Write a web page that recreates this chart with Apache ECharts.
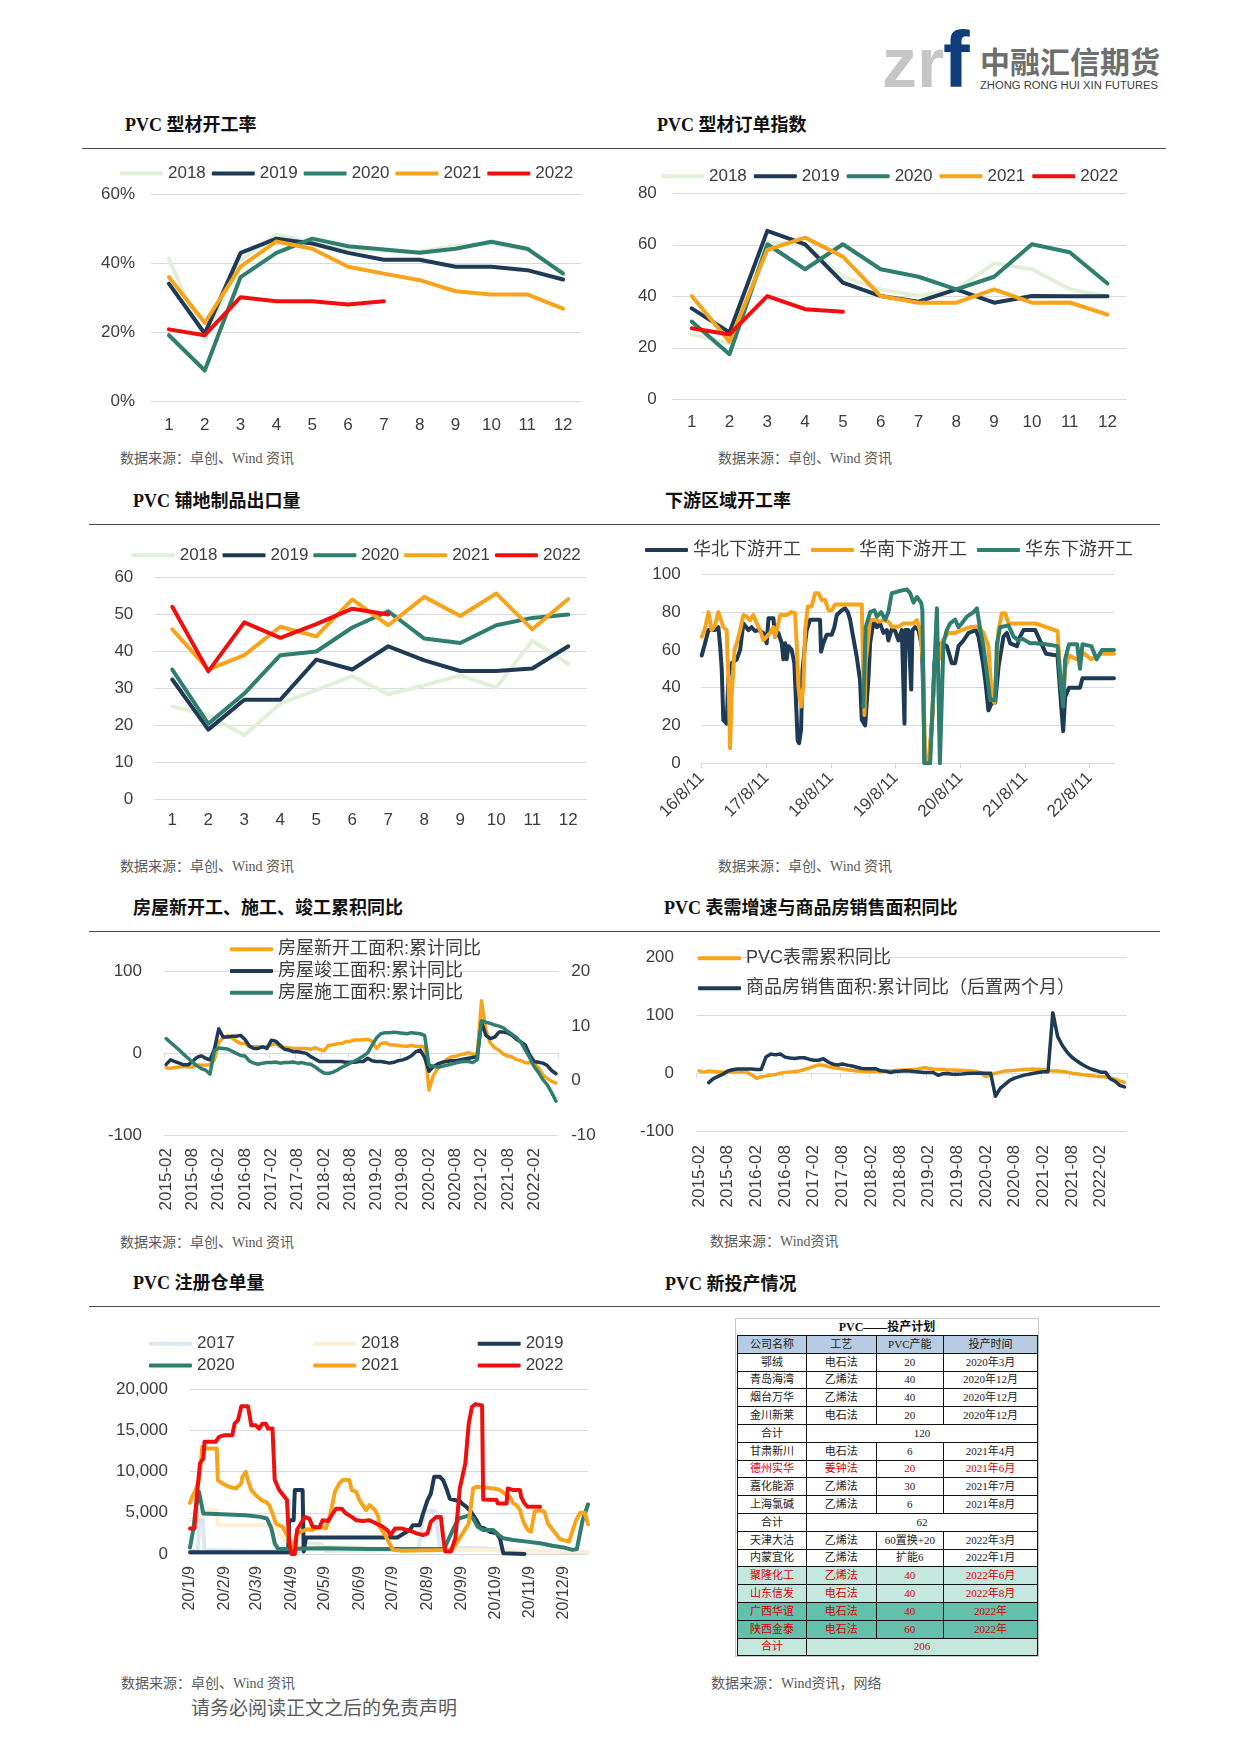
<!DOCTYPE html>
<html lang="zh-CN">
<head>
<meta charset="utf-8">
<title>PVC</title>
<script src="https://cdn.jsdelivr.net/npm/echarts/dist/echarts.min.js"></script>
<style>
html,body{margin:0;padding:0;background:#fff;}
#page{position:relative;width:1241px;height:1755px;overflow:hidden;background:#fff;}
.t{position:absolute;white-space:nowrap;line-height:1;transform:translateY(-50%);}
.ttl{font-family:'Liberation Serif','Noto Sans CJK SC',serif;font-weight:700;font-size:18px;color:#111;}
.src{font-family:'Liberation Serif','Noto Sans CJK SC',serif;font-size:14px;color:#595959;}
.foot{font-family:'Liberation Serif','Noto Sans CJK SC',serif;font-size:19px;color:#5a5a5a;}
.rule{position:absolute;height:0;border-top:1.5px solid #4a4a4a;}
.chart{position:absolute;}
#plan{position:absolute;left:735px;top:1318px;width:302px;border:1px solid #c8c8c8;background:#fff;font-family:'Liberation Serif','Noto Sans CJK SC',serif;}
#plan .cap{height:16px;line-height:16px;text-align:center;font-weight:700;font-size:12px;color:#111;}
#plan table{border-collapse:collapse;table-layout:fixed;width:300px;margin-left:1px;}
#plan td{border:1px solid #111;height:16.8px;padding:0;text-align:center;font-size:11px;line-height:1;color:#1a1a1a;overflow:hidden;white-space:nowrap;}
</style>
</head>
<body>
<div id="page">
<svg style="position:absolute;left:0;top:0" width="1241" height="100">
  <text x="882" y="87" font-family="Liberation Sans" font-weight="bold" font-size="70" fill="#c6c6c6">zr</text>
  <text x="943" y="87" font-family="Liberation Sans" font-weight="bold" font-size="80" fill="#0f3c7c">f</text>
  <text x="980" y="73" font-family="Noto Sans CJK SC" font-weight="bold" font-size="30" fill="#6e6e6e" textLength="180" lengthAdjust="spacingAndGlyphs">中融汇信期货</text>
  <text x="980" y="88.5" font-family="Liberation Sans" font-size="10" fill="#3c3c3c" textLength="178" lengthAdjust="spacingAndGlyphs">ZHONG RONG HUI XIN FUTURES</text>
</svg>
</div>
<script>
// ---------------- data ----------------
const months = ['1','2','3','4','5','6','7','8','9','10','11','12'];
const yearNames = ['2018','2019','2020','2021','2022'];

// PVC 型材开工率 (%)
const rate2018 = [41.3,17.8,41,48.3,46,44,43.5,43.3,45,45.7,44,37.5];
const rate2019 = [34.1,19.7,43,47.1,45.7,43,41,41,39,39,38,35.3];
const rate2020 = [19.2,9,36,43,47.1,44.9,44,43,44.2,46.2,44.2,37];
const rate2021 = [36,22.8,39,46.3,44.2,39,37,35.1,31.9,31,31,26.9];
const rate2022 = [20.9,19.2,30.2,29,29,28.1,29];

// PVC 型材订单指数
const order2018 = [25.2,21.7,61.2,60,47.6,42.7,40.1,42.7,52.8,50.5,42.8,40];
const order2019 = [35.3,26,65.4,60.2,45.3,40.1,37.9,42.7,37.5,40.1,40,40];
const order2020 = [30.2,17.5,60.2,50.5,60.2,50.5,47.6,42.7,47.6,60.2,57.1,45];
const order2021 = [40.1,22.4,58,62.8,55.4,40.1,37.5,37.5,42.7,37.5,37.6,32.9];
const order2022 = [27.6,25.2,40.1,35,34];

// PVC 铺地制品出口量
const floor2018 = [25.1,22.7,17.3,25.9,29.5,33.3,28.4,30.8,33.5,30.2,42.9,36.6];
const floor2019 = [32.4,18.8,26.9,26.9,37.8,35.1,41.4,37.6,34.7,34.7,35.4,41.4];
const floor2020 = [35.1,20.4,28.6,39,40,46.5,50.9,43.5,42.3,47.1,49.1,50];
const floor2021 = [46,35.1,39,46.7,44.1,54.1,47.1,54.8,49.6,55.7,46,54.2];
const floor2022 = [52.1,34.6,47.9,43.7,47.4,51.6,50];

// 下游区域开工率: [days since 2016-08-11, value]
const regionNames = ['华北下游开工','华南下游开工','华东下游开工'];
const northRate = [[0,57],[19,63.5],[38,70.5],[75,70.5],[94,72],[104,62],[113,50],[122,23],[141,21],[151,46],[169,53],[198,55],[217,60],[235,74],[264,70.5],[282,72],[301,70],[320,70.5],[348,69],[367,63.5],[377,76.7],[405,76.7],[414,67],[433,69],[452,63.5],[461,55],[471,63.5],[480,55],[490,62],[508,60],[523,53],[542,12],[550,10.6],[561,17.6],[569,49],[584,63.5],[593,70.5],[612,76],[668,76],[674,59],[687,63.5],[706,68],[734,68],[749,72],[763,78.5],[791,81],[810,82],[825,80],[838,76],[851,69],[876,56],[894,44],[904,23],[923,20],[932,21],[942,46],[951,63.5],[970,75],[989,72],[1007,74],[1026,69],[1045,70.5],[1054,65],[1073,71],[1092,70],[1111,65],[1130,70.5],[1141,70.5],[1145,21],[1150,70.5],[1167,70.5],[1183,39],[1190,70.5],[1205,72],[1224,70.5],[1243,62],[1252,35],[1258,0],[1285,0],[1303,26.5],[1314,53],[1328,62],[1356,63.5],[1384,62],[1412,53],[1431,53],[1450,62],[1478,65],[1507,69],[1548,70.5],[1563,67],[1588,53],[1601,44],[1619,28],[1638,32],[1657,32],[1676,51],[1704,67],[1723,69],[1742,63.5],[1780,62],[1798,67],[1817,70.5],[1883,70.5],[1944,58],[2009,57],[2030,30],[2041,17],[2052,35],[2074,40],[2136,40],[2150,45],[2328,45]];
const southRate = [[0,67],[19,71.4],[38,80],[56,70.5],[75,73],[94,80],[122,72],[141,70.5],[154,35],[160,8],[169,35],[185,60],[198,63.5],[217,70.5],[235,78.5],[254,77.6],[273,75.8],[292,78.5],[311,74],[330,70.5],[348,65],[367,67],[386,69],[405,72],[414,67],[424,70.5],[443,78.5],[480,78.5],[508,80],[527,79.4],[537,62],[546,40.6],[561,30],[574,40.6],[584,70.5],[599,83],[621,83],[640,90],[659,90],[678,86.4],[697,86.4],[716,81],[734,81],[753,84],[904,84],[911,53],[919,25.6],[926,53],[951,75.8],[979,75.8],[1007,75],[1026,75.8],[1054,75],[1073,72.3],[1111,72.3],[1139,74],[1196,74],[1215,75.8],[1233,70.5],[1250,53],[1262,0],[1280,0],[1300,20],[1318,55],[1340,55],[1360,65],[1393,69],[1431,69],[1469,70.5],[1525,72.3],[1563,72.3],[1591,69],[1619,62],[1638,35],[1653,32],[1676,70.5],[1695,79.4],[1714,79.4],[1732,74],[1883,74],[2009,70],[2030,40],[2041,35],[2052,50],[2074,57],[2120,55],[2160,58],[2200,55],[2260,58],[2328,58]];
const eastRate = [[913,30],[926,72],[951,80],[975,81],[989,77.6],[1013,80],[1036,76],[1054,80],[1073,90],[1111,91],[1158,92],[1177,90],[1196,85],[1215,88],[1239,85],[1246,81],[1258,0],[1290,0],[1318,60],[1328,82],[1345,0],[1356,0],[1365,63.5],[1384,70.5],[1403,74],[1431,76],[1450,72],[1469,74],[1497,77.6],[1535,80],[1554,82],[1573,70.5],[1591,62],[1610,47.6],[1629,33.5],[1657,33.5],[1667,63.5],[1685,72],[1732,73],[1761,67],[1789,65],[1808,66],[1855,63.5],[1883,63.5],[1944,63],[2009,62],[2030,40],[2041,30],[2052,55],[2074,63],[2120,63],[2136,50],[2150,63],[2200,62],[2230,55],[2260,60],[2328,60]];

// 房屋新开工、施工、竣工累积同比 (2015-02 .. 2022-07)
const houseNames = ['房屋新开工面积:累计同比','房屋竣工面积:累计同比','房屋施工面积:累计同比'];
const newStartYoY = [-17.7,-18.4,-17.4,-16.8,-15.8,-16.8,-16.8,-13.9,-14.5,-14.4,-14.0,
  -8,13.7,19.2,21.4,18.9,14.9,12.3,12.2,8,8,8,8.1,
  8,10.4,11.6,8,7,7,6,6,6,6,5,7,
  5,2.9,9.7,10.4,11.8,11.8,14.4,14.6,16.4,16.3,16.8,17.2,
  15,6.0,11.9,13.1,10.5,10.1,9.5,8.9,8.6,10.0,8.6,8.5,
  8,-44.9,-27.2,-18.4,-12.8,-7.6,-4.5,-3.6,-1.9,-0.8,0.8,-1.2,
  -1,64.3,28.2,12.8,6.9,3.8,-0.9,-3.2,-4.5,-7.7,-9.1,-11.4,
  -11.5,-12.2,-17.5,-26.3,-30.6,-34.4,-36.1];
const completedYoY = [-13.5,-8,-10,-12,-14,-14,-10,-5,-3,-6,-8,
  5,30,20,20,21,21,22,17,9,6,6,8,
  6,16,15,10,5,4,2,2,1,0,-4,-7,
  -10,-10,-10,-10,-10,-10,-11,-11,-11,-10,-10,-6,
  -9,-10,-10,-11,-12,-11,-9,-8,-6,-3,2,4,
  -5,-22,-16,-13,-11,-10,-9,-9,-8,-7,-6,-5,
  -4,38,22,18,20,26,26,25,22,17,14,10,
  -2,-10,-11,-12,-15,-21,-25];
const underConstYoY = [7.7,7.0,6.3,5.6,4.8,4.1,3.4,2.7,2.2,1.9,1.2,
  5.5,6.0,5.9,5.8,5.4,5.0,4.6,4.5,3.6,3.2,3.0,3.2,
  3.3,3.3,3.4,3.2,3.3,3.3,3.4,3.2,3.3,3.1,3.0,2.5,
  1.9,1.4,1.3,1.5,1.9,2.4,2.8,3.2,3.6,4.0,4.5,5.1,
  6.5,7.8,8.6,8.8,8.8,8.9,8.8,8.7,8.6,8.8,8.7,8.6,
  8.3,2.9,2.6,2.5,2.6,2.8,3.0,3.2,3.4,3.5,3.5,3.3,
  3.8,11.0,10.7,10.5,10.2,10.0,9.7,9.0,8.5,7.9,7.0,5.6,
  4.2,2.6,1.5,0.2,-0.8,-2.2,-3.8];

// PVC 表需增速与商品房销售面积同比 (2015-02 .. 2022-07)
const demandNames = ['PVC表需累积同比','商品房销售面积:累计同比（后置两个月）'];
const pvcDemandYoY = [4,2,4,3,2,2,2,2,2,2,1.5,-3,-8.7,-6,-5,-3,-2,0,1.5,2,3,4,6.5,9,12,14.5,14,11.6,10,8.7,7.5,6,5,4,3.5,3,3,3,3,3.5,4,4.6,5,5.5,6,6.5,7.5,9.8,8.5,7.5,7,6.5,5.8,5.5,5,5,4.5,4,3,0,-5.8,-3,0,2,4,4.5,5,5.8,6.5,7,7.5,7,6,5,4,3.8,3,2,0,-1,-2,-3,-4,-5,-5.8,-6.5,-8,-10,-13.5,-16];
const salesAreaYoY = [null,null,-16.3,-9.2,-5.4,-1.7,3.9,6.0,7.2,7.5,7.2,7.4,6.5,6.5,28.2,33.1,32.1,33.2,27.9,26.4,25.5,26.9,26.8,24.3,22.5,22.5,25.1,19.5,15.7,14.3,16.1,14.0,12.7,10.3,8.2,7.9,7.7,7.7,4.1,3.6,1.3,2.9,3.3,4.2,4.0,2.9,2.2,1.4,1.3,1.3,-3.6,-0.9,-0.3,-1.6,-1.8,-1.3,-0.6,-0.1,0.1,0.2,-0.1,-0.1,-39.9,-26.3,-19.3,-12.3,-8.4,-5.8,-3.3,-1.8,0.0,1.3,2.6,2.6,104.9,63.8,48.1,36.3,27.7,21.5,15.9,11.3,7.3,4.8,1.9,1.9,-9.6,-13.8,-20.9,-23.6];

// PVC 注册仓单量: [days since 01-09, value]
const warrantNames = ['2017','2018','2019','2020','2021','2022'];
const warrant2017 = [[0,400],[7,400],[9,5500],[11,5500],[13,500],[60,300],[100,300],[105,1200],[118,1200],[122,400],[205,500],[210,5200],[220,5200],[224,900],[260,700],[300,300],[357,200]];
const warrant2018 = [[0,4200],[10,4500],[12,5300],[24,5300],[25,3500],[77,3500],[80,2600],[88,1000],[150,800],[200,500],[260,500],[300,300],[357,300]];
const warrant2019 = [[0,200],[88,200],[89,4100],[93,4100],[94,7750],[101,7750],[102,300],[104,2000],[186,2000],[197,2900],[200,3500],[206,3500],[209,4900],[213,6500],[216,7300],[219,9360],[224,9360],[227,8960],[230,7950],[233,6700],[242,6400],[244,6100],[248,5700],[252,5100],[257,4100],[260,3300],[264,3100],[269,2700],[275,2500],[278,1900],[281,100],[300,0]];
const warrant2020 = [[0,800],[3,3000],[5,5300],[8,7550],[9,7550],[12,4900],[50,4700],[63,4500],[69,4300],[73,3100],[76,1300],[79,600],[120,700],[160,600],[200,600],[228,600],[236,3000],[241,4300],[246,4500],[251,4700],[254,4300],[258,3300],[263,2900],[272,2900],[277,2300],[281,1900],[290,1700],[302,1500],[314,1300],[325,1000],[335,800],[343,500],[347,600],[352,4000],[357,6000]];
const warrant2021 = [[0,6200],[2,6900],[5,7750],[8,8960],[10,11400],[11,13000],[13,12800],[24,12800],[25,8960],[29,8550],[35,8150],[41,7950],[46,8550],[47,9360],[50,9970],[52,8960],[55,7750],[59,7140],[64,6540],[68,6330],[71,5930],[74,4900],[77,3700],[80,3500],[83,3300],[86,2500],[89,1700],[92,800],[96,2500],[105,3000],[110,2900],[116,3300],[122,3100],[126,4900],[130,7550],[134,8550],[137,8960],[143,8960],[145,7750],[149,7550],[152,6540],[155,5930],[158,5320],[161,5930],[166,5320],[169,4500],[170,3300],[175,2300],[179,1280],[182,500],[190,400],[235,500],[240,1500],[250,3700],[254,7950],[257,8150],[272,7950],[278,7750],[282,7350],[287,6940],[290,6130],[293,5930],[296,5320],[299,3900],[303,2900],[306,2700],[309,5120],[314,5320],[318,5120],[321,3700],[325,3000],[332,1800],[340,1500],[346,4000],[350,5000],[354,5000],[357,3600]];
const warrant2022 = [[0,3100],[4,3100],[6,6900],[9,11000],[12,11600],[13,13600],[23,13600],[26,14200],[31,14400],[38,14400],[40,15800],[43,16200],[46,17900],[52,17900],[55,15600],[59,15600],[62,15200],[65,15800],[68,15800],[70,15200],[74,15200],[76,9000],[80,7750],[87,6540],[89,1300],[91,0],[94,0],[96,2900],[103,4500],[107,4300],[110,3300],[116,3200],[119,4100],[124,4000],[128,4900],[131,5500],[136,5500],[140,4900],[145,4500],[149,4100],[155,4000],[161,4100],[167,3700],[173,3300],[177,2900],[180,2300],[184,3100],[190,3100],[195,2900],[200,2700],[203,2500],[209,2300],[213,2500],[216,3900],[221,4500],[225,4500],[227,2100],[229,300],[234,300],[238,1900],[242,7950],[247,11000],[250,15800],[253,17850],[256,18170],[262,18000],[263,6600],[275,6540],[276,6130],[284,6130],[285,7950],[290,7750],[296,7750],[297,6940],[300,6130],[303,5720],[314,5720]];

// PVC 新投产计划表
const planHead = ['公司名称','工艺','PVC产能','投产时间'];
const plan2020 = [['鄂绒','电石法','20','2020年3月'],['青岛海湾','乙烯法','40','2020年12月'],['烟台万华','乙烯法','40','2020年12月'],['金川新莱','电石法','20','2020年12月']];
const plan2020Total = '120';
const plan2021 = [['甘肃新川','电石法','6','2021年4月'],['德州实华','姜钟法','20','2021年6月'],['嘉化能源','乙烯法','30','2021年7月'],['上海氯碱','乙烯法','6','2021年8月']];
const plan2021Total = '62';
const plan2022 = [['天津大沽','乙烯法','60置换+20','2022年3月'],['内蒙宜化','乙烯法','扩能6','2022年1月'],['聚隆化工','乙烯法','40','2022年6月'],['山东信发','电石法','40','2022年8月'],['广西华谊','电石法','40','2022年'],['陕西金泰','电石法','60','2022年']];
const plan2022Total = '206';
const planRed = ['德州实华','聚隆化工','山东信发','广西华谊','陕西金泰'];
const planLight = ['聚隆化工','山东信发'];
const planDark = ['广西华谊','陕西金泰'];

// ---------------- page text ----------------
const page = document.getElementById('page');
function txt(cls, s, x, y){ const d=document.createElement('div'); d.className='t '+cls; d.style.left=x+'px'; d.style.top=y+'px'; d.textContent=s; page.appendChild(d); }
function rule(x1,x2,y){ const d=document.createElement('div'); d.className='rule'; d.style.left=x1+'px'; d.style.width=(x2-x1)+'px'; d.style.top=y+'px'; page.appendChild(d); }
const SRC1 = '数据来源：卓创、Wind 资讯';
txt('ttl','PVC 型材开工率',125,125); txt('ttl','PVC 型材订单指数',657,125); rule(82,1166,148);
txt('src',SRC1,120,459); txt('src',SRC1,718,459);
txt('ttl','PVC 铺地制品出口量',133,501); txt('ttl','下游区域开工率',665,501); rule(89,1160,524);
txt('src',SRC1,120,867); txt('src',SRC1,718,867);
txt('ttl','房屋新开工、施工、竣工累积同比',133,908); txt('ttl','PVC 表需增速与商品房销售面积同比',664,908); rule(89,1160,931);
txt('src',SRC1,120,1243); txt('src','数据来源：Wind资讯',710,1242);
txt('ttl','PVC 注册仓单量',133,1283); txt('ttl','PVC 新投产情况',665,1284); rule(89,1160,1306);
txt('src',SRC1,121,1684); txt('src','数据来源：Wind资讯，网络',711,1684);
txt('foot','请务必阅读正文之后的免责声明',191,1708);

// ---------------- table ----------------
(function(){
  const box=document.createElement('div'); box.id='plan';
  const cap=document.createElement('div'); cap.className='cap'; cap.textContent='PVC——投产计划'; box.appendChild(cap);
  const tb=document.createElement('table');
  const cg=document.createElement('colgroup'); [69,69.6,67.4,94].forEach(w=>{const c=document.createElement('col'); c.style.width=w+'px'; cg.appendChild(c);}); tb.appendChild(cg);
  function row(cells, bg, color, spanLast){
    const tr=document.createElement('tr');
    cells.forEach((s,i)=>{ const td=document.createElement('td'); td.textContent=s; if(bg) td.style.background=bg; if(color) td.style.color=color; if(spanLast && i===1) td.colSpan=3; tr.appendChild(td); });
    tb.appendChild(tr);
  }
  const RED='#d80000', LIGHT='#c4e7de', DARK='#63c0ab';
  row(planHead,'#b7cbe3',null,false);
  function group(rows,total,totalBg,totalColor){
    rows.forEach(r=>{ const n=r[0]; row(r, planLight.includes(n)?LIGHT:(planDark.includes(n)?DARK:null), planRed.includes(n)?RED:null, false); });
    row(['合计',total],totalBg,totalColor,true);
  }
  group(plan2020,plan2020Total,null,null);
  group(plan2021,plan2021Total,null,null);
  group(plan2022,plan2022Total,LIGHT,RED);
  box.appendChild(tb); page.appendChild(box);
})();

// ---------------- charts ----------------
const FONT = "'Liberation Sans','Noto Sans CJK SC',sans-serif";
const TXT = '#3d3d3d';
const GRIDC = '#d9d9d9';
const C = {p17:'#dbe7f3', p18:'#e2efd9', y18:'#fdf0d3', navy:'#1f3a55', teal:'#2f7e6e', orange:'#f7a41d', red:'#f00f0f'};

function merge(a,b){ const o=Object.assign({},a); for(const k in b){ const v=b[k]; if(v&&typeof v==='object'&&!Array.isArray(v)&&typeof v!=='function'&&o[k]&&typeof o[k]==='object'&&!Array.isArray(o[k])) o[k]=merge(o[k],v); else o[k]=v; } return o; }
function mk(box){ const d=document.createElement('div'); d.className='chart'; d.style.left=box[0]+'px'; d.style.top=box[1]+'px'; d.style.width=box[2]+'px'; d.style.height=box[3]+'px'; page.appendChild(d); return echarts.init(d,null,{renderer:'canvas'}); }
function ln(name,data,color,extra){ return merge({type:'line',name:name,data:data,color:color,symbol:'none',showSymbol:false,silent:true,connectNulls:false,
  lineStyle:{width:4,color:color,cap:'round',join:'round'},itemStyle:{color:color},emphasis:{disabled:true}}, extra||{}); }
function lg(extra){ return merge({icon:'roundRect',itemWidth:43,itemHeight:4,itemGap:6,padding:0,selectedMode:false,
  textStyle:{color:TXT,fontSize:17,fontFamily:FONT}}, extra||{}); }
const LBL = {color:TXT,fontSize:17,fontFamily:FONT};
function catX(data,extra){ return merge({type:'category',data:data,boundaryGap:true,axisLine:{show:true,lineStyle:{color:GRIDC,width:1}},axisTick:{show:false},
  axisLabel:merge(LBL,{margin:15}),splitLine:{show:false}}, extra||{}); }
function valY(min,max,step,extra){ return merge({type:'value',min:min,max:max,interval:step,axisLine:{show:false},axisTick:{show:false},
  axisLabel:merge(LBL,{margin:16}),splitLine:{show:true,lineStyle:{color:GRIDC,width:1}}}, extra||{}); }
function grid(l,t,w,h){ return {left:l,top:t,width:w,height:h,containLabel:false,outerBoundsMode:'none'}; }

// chart 1
mk([82,160,520,290]).setOption({animation:false,textStyle:{fontFamily:FONT},
  grid:grid(69,34,430,207.7),
  legend:lg({left:38,top:5,itemGap:6,data:yearNames}),
  xAxis:catX(months),
  yAxis:valY(0,60,20,{axisLabel:{formatter:'{value}%'}}),
  series:[ln('2018',rate2018,C.p18),ln('2019',rate2019,C.navy),ln('2020',rate2020,C.teal),ln('2021',rate2021,C.orange),ln('2022',rate2022,C.red)]
});

// chart 2
mk([600,160,560,290]).setOption({animation:false,textStyle:{fontFamily:FONT},
  grid:grid(72.8,33.3,453.6,206),
  legend:lg({left:61,top:7.7,itemGap:7,data:yearNames}),
  xAxis:catX(months),
  yAxis:valY(0,80,20),
  series:[ln('2018',order2018,C.p18),ln('2019',order2019,C.navy),ln('2020',order2020,C.teal),ln('2021',order2021,C.orange),ln('2022',order2022,C.red)]
});

// chart 3
mk([82,530,520,300]).setOption({animation:false,textStyle:{fontFamily:FONT},
  grid:grid(72.3,47.7,432,221.3),
  legend:lg({left:49.7,top:16.7,itemGap:5,data:yearNames}),
  xAxis:catX(months,{axisLabel:{margin:13}}),
  yAxis:valY(0,60,10,{axisLabel:{margin:21}}),
  series:[ln('2018',floor2018,C.p18),ln('2019',floor2019,C.navy),ln('2020',floor2020,C.teal),ln('2021',floor2021,C.orange),ln('2022',floor2022,C.red)]
});

// chart 4
function dayLabels(y0,m0,d0,n){ const out=[]; const t0=Date.UTC(y0,m0-1,d0); for(let i=0;i<n;i++){ const dt=new Date(t0+i*86400000); out.push((dt.getUTCFullYear()-2000)+'/'+(dt.getUTCMonth()+1)+'/'+dt.getUTCDate()); } return out; }
const regionDays = dayLabels(2016,8,11,2329);
const isAug11 = (i,v)=>/^\d+\/8\/11$/.test(v);
mk([600,530,560,330]).setOption({animation:false,textStyle:{fontFamily:FONT},
  grid:grid(101.7,44.3,412.3,189),
  legend:lg({left:45,top:11,itemGap:10,textStyle:{fontSize:18},data:regionNames}),
  xAxis:{type:'category',data:regionDays,boundaryGap:false,axisLine:{show:true,lineStyle:{color:GRIDC}},
    axisTick:{show:true,length:5,interval:isAug11,lineStyle:{color:GRIDC}},
    axisLabel:merge(LBL,{interval:isAug11,rotate:45,margin:12}),splitLine:{show:false}},
  yAxis:valY(0,100,20,{axisLabel:{margin:21}}),
  series:[ln(regionNames[0],northRate,C.navy),ln(regionNames[1],southRate,C.orange),ln(regionNames[2],eastRate,C.teal)]
});

// chart 5
const monthCats=[]; for(let y=2015,m=2; !(y===2022&&m>7); ){ monthCats.push(y+'-'+String(m).padStart(2,'0')); m++; if(m>12){m=1;y++;} }
mk([82,930,520,340]).setOption({animation:false,textStyle:{fontFamily:FONT},
  grid:grid(82,41.7,394.2,163.3),
  legend:lg({orient:'vertical',left:148,top:10.3,itemGap:3.7,textStyle:{fontSize:18,lineHeight:18},data:houseNames}),
  xAxis:[
    {type:'category',data:monthCats,boundaryGap:true,position:'bottom',axisLine:{show:false,onZero:false},axisTick:{show:false},
      axisLabel:merge(LBL,{interval:5,rotate:90,margin:13}),splitLine:{show:false}},
    {type:'category',data:monthCats,boundaryGap:true,position:'bottom',axisLine:{show:true,onZero:true,onZeroAxisIndex:0,lineStyle:{color:GRIDC}},
      axisTick:{show:true,interval:5,length:5,lineStyle:{color:GRIDC}},axisLabel:{show:false},splitLine:{show:false}}
  ],
  yAxis:[valY(-100,100,100,{axisLabel:{margin:22}}), valY(-10,20,10,{position:'right',splitLine:{show:false},axisLabel:{margin:13}})],
  series:[ln(houseNames[0],newStartYoY,C.orange,{lineStyle:{width:3.5}}),ln(houseNames[1],completedYoY,C.navy,{lineStyle:{width:3.5}}),ln(houseNames[2],underConstYoY,C.teal,{yAxisIndex:1,lineStyle:{width:3.5}})]
});

// chart 6
mk([600,930,560,340]).setOption({animation:false,textStyle:{fontFamily:FONT},
  grid:grid(96.7,27.7,430.2,173.3),
  legend:lg({orient:'vertical',left:98,top:19.3,itemGap:12,textStyle:{fontSize:18,lineHeight:18},data:demandNames}),
  xAxis:[
    {type:'category',data:monthCats,boundaryGap:true,position:'bottom',axisLine:{show:false,onZero:false},axisTick:{show:false},
      axisLabel:merge(LBL,{interval:5,rotate:90,margin:14}),splitLine:{show:false}},
    {type:'category',data:monthCats,boundaryGap:true,position:'bottom',axisLine:{show:true,onZero:true,onZeroAxisIndex:0,lineStyle:{color:GRIDC}},
      axisTick:{show:true,interval:5,length:5,lineStyle:{color:GRIDC}},axisLabel:{show:false},splitLine:{show:false}}
  ],
  yAxis:valY(-100,200,100,{axisLabel:{margin:22.7}}),
  series:[ln(demandNames[0],pvcDemandYoY,C.orange,{lineStyle:{width:3.5}}),ln(demandNames[1],salesAreaYoY,C.navy,{lineStyle:{width:3.5}})]
});

// chart 7
const warrantDays = dayLabels(2020,1,9,358);
const isNinth = (i,v)=>v.split('/')[2]==='9';
mk([82,1320,520,330]).setOption({animation:false,textStyle:{fontFamily:FONT},
  grid:grid(108,69,398,165),
  legend:[lg({left:67,top:15.3,itemGap:78.5,data:warrantNames.slice(0,3)}), lg({left:67,top:37,itemGap:78.5,data:warrantNames.slice(3)})],
  xAxis:{type:'category',data:warrantDays,boundaryGap:false,axisLine:{show:true,lineStyle:{color:GRIDC}},axisTick:{show:false},
    axisLabel:merge(LBL,{interval:isNinth,rotate:90,margin:12,fontSize:16}),splitLine:{show:false}},
  yAxis:valY(0,20000,5000,{axisLabel:{margin:22,formatter:v=>v.toLocaleString('en-US')}}),
  series:[ln('2017',warrant2017,C.p17),ln('2018',warrant2018,C.y18),ln('2019',warrant2019,C.navy),ln('2020',warrant2020,C.teal),ln('2021',warrant2021,C.orange),ln('2022',warrant2022,C.red)]
});
</script>
</body>
</html>
